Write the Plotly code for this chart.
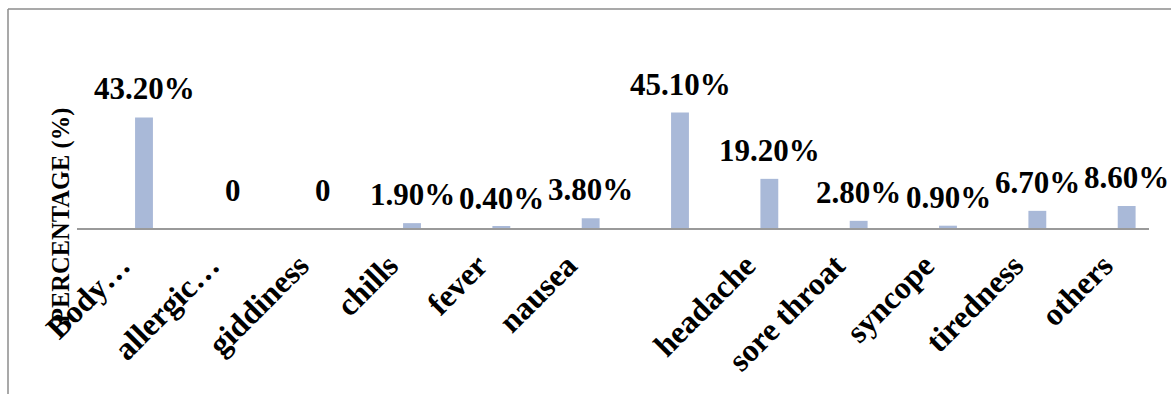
import plotly.graph_objects as go

categories = ["Body…", "allergic…", "giddiness", "chills", "fever", "nausea", "",
              "headache", "sore throat", "syncope", "tiredness", "others"]
values = [43.2, 0, 0, 1.9, 0.4, 3.8, 45.1, 19.2, 2.8, 0.9, 6.7, 8.6]
value_labels = ["43.20%", "0", "0", "1.90%", "0.40%", "3.80%", "45.10%",
                "19.20%", "2.80%", "0.90%", "6.70%", "8.60%"]

FONT = "Times New Roman, Liberation Serif, serif"
BAR_COLOR = "#A9B9D8"
W, H = 1171, 394
L, R, T, B = 77, 22, 100, 166

xs = list(range(len(values)))

fig = go.Figure()
fig.add_trace(go.Bar(x=xs, y=values, width=0.2, marker=dict(color=BAR_COLOR, line=dict(width=0)),
                     hoverinfo="skip"))

for x, v, lab in zip(xs, values, value_labels):
    fig.add_annotation(x=x, y=v, text=f"<b>{lab}</b>", showarrow=False, yanchor="bottom",
                       xanchor="center", yshift=9 + (9 if v == 0 else 0),
                       font=dict(family=FONT, size=31, color="black"))

pw = W - L - R
ph = H - T - B
# y-axis title
fig.add_annotation(xref="paper", yref="paper", x=(61 - L) / pw, y=(H - B - 216) / ph,
                   text="<b>PERCENTAGE (%)</b>", textangle=-90, showarrow=False,
                   xanchor="center", yanchor="middle",
                   font=dict(family=FONT, size=24.5, color="black"))

# outer chart border (top and left visible)
fig.add_shape(type="line", xref="paper", yref="paper",
              x0=(8 - L) / pw, x1=(W + 5 - L) / pw, y0=(H - B - 9) / ph, y1=(H - B - 9) / ph,
              line=dict(color="#8C8C8C", width=1.5))
fig.add_shape(type="line", xref="paper", yref="paper",
              x0=(8 - L) / pw, x1=(8 - L) / pw, y0=(H - B - 9) / ph, y1=(H - B - H - 5) / ph,
              line=dict(color="#8C8C8C", width=1.5))

fig.update_layout(
    width=W, height=H,
    margin=dict(l=L, r=R, t=T, b=B),
    plot_bgcolor="white", paper_bgcolor="white",
    showlegend=False,
    xaxis=dict(range=[-0.75, 11.25], tickmode="array",
               tickvals=[x - 0.26 for x in xs], ticktext=[f"<b>{c}</b>" for c in categories],
               tickangle=-45, tickfont=dict(family=FONT, size=32, color="black"),
               showgrid=False, zeroline=False, showline=True, linecolor="#9A9A9A", linewidth=2,
               ticks="outside", ticklen=4, tickcolor="rgba(0,0,0,0)"),
    yaxis=dict(range=[0, 50], showgrid=False, zeroline=False, showticklabels=False,
               showline=False, ticks=""),
)

fig.write_html("out.html")
